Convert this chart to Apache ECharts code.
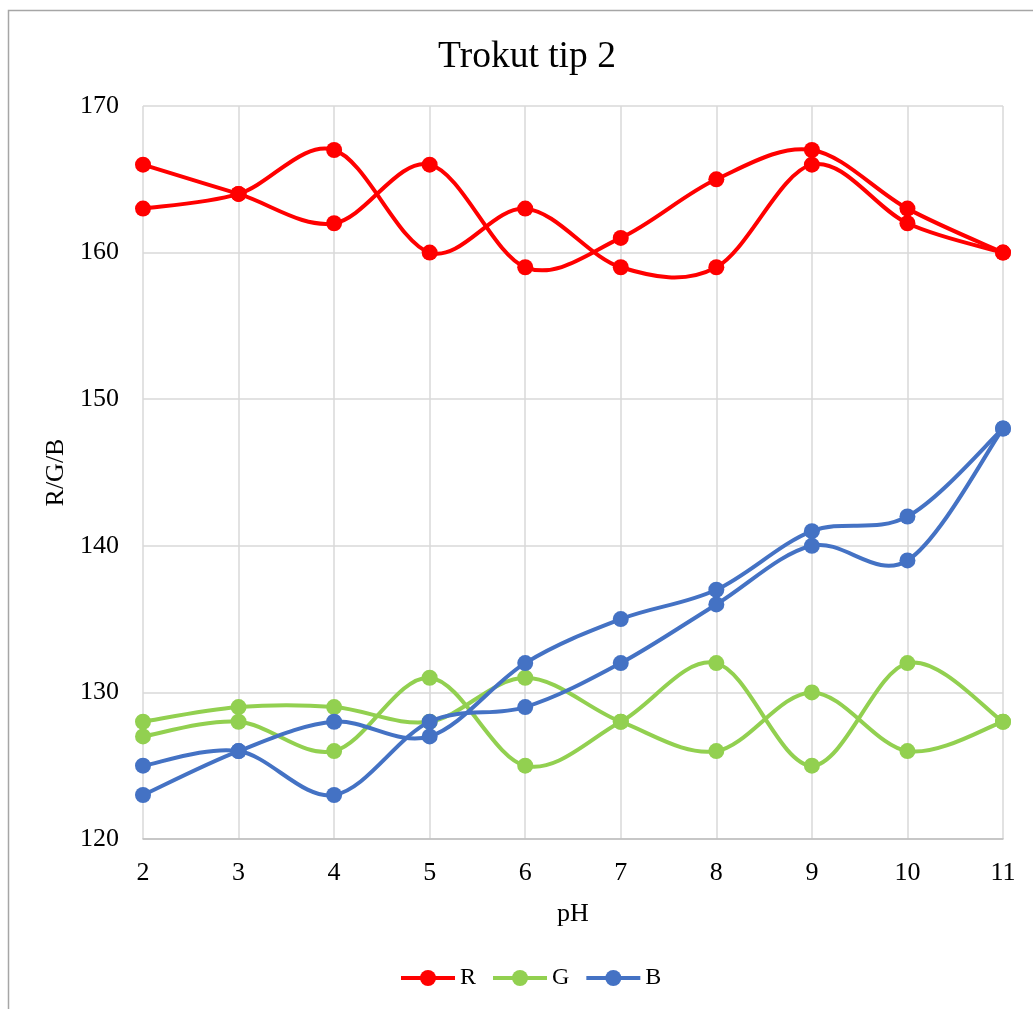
<!DOCTYPE html>
<html>
<head>
<meta charset="utf-8">
<title>Trokut tip 2</title>
<script src="https://cdn.jsdelivr.net/npm/echarts@6/dist/echarts.min.js"></script>
<style>
  html, body { margin: 0; padding: 0; background: #fff; }
  #chart { width: 1033px; height: 1009px; }
</style>
</head>
<body>
<div id="chart"></div>
<script>
// pH values on the horizontal axis
const phValues = [2, 3, 4, 5, 6, 7, 8, 9, 10, 11];

// Two measurement runs per colour channel
const r1 = [166, 164, 162, 166, 159, 161, 165, 167, 163, 160];
const r2 = [163, 164, 167, 160, 163, 159, 159, 166, 162, 160];
const g1 = [128, 129, 129, 128, 131, 128, 126, 130, 126, 128];
const g2 = [127, 128, 126, 131, 125, 128, 132, 125, 132, 128];
const b1 = [125, 126, 123, 128, 129, 132, 136, 140, 139, 148];
const b2 = [123, 126, 128, 127, 132, 135, 137, 141, 142, 148];

const serif = '"Liberation Serif", "Times New Roman", serif';
const RED = '#ff0000', GREEN = '#92d050', BLUE = '#4472c4';
const LINE_W = 4;
const DOT_R = 8;

function pairs(ys) {
  return phValues.map((x, i) => [x, ys[i]]);
}

// Empty line series: they only supply the legend entries (line + dot icon)
function legendSeries(name, color) {
  return {
    name: name,
    type: 'line',
    data: [],
    symbol: 'circle',
    lineStyle: { color: color, width: LINE_W },
    itemStyle: { color: color }
  };
}

// Smoothed run: each item draws the Catmull-Rom style cubic segment to
// the next point (control points at 1/6 of the neighbour chord) and its dot.
function curveSeries(name, ys, color) {
  const data = pairs(ys);
  return {
    name: name,
    type: 'custom',
    data: data,
    encode: { x: 0, y: 1 },
    silent: true,
    renderItem: function (params, api) {
      const i = params.dataIndex;
      const n = data.length;
      const pt = k => api.coord(data[Math.max(0, Math.min(n - 1, k))]);
      const children = [];
      if (i < n - 1) {
        const p0 = pt(i - 1), p1 = pt(i), p2 = pt(i + 1), p3 = pt(i + 2);
        children.push({
          type: 'bezierCurve',
          shape: {
            x1: p1[0], y1: p1[1],
            cpx1: p1[0] + (p2[0] - p0[0]) / 6, cpy1: p1[1] + (p2[1] - p0[1]) / 6,
            cpx2: p2[0] - (p3[0] - p1[0]) / 6, cpy2: p2[1] - (p3[1] - p1[1]) / 6,
            x2: p2[0], y2: p2[1]
          },
          style: { stroke: color, lineWidth: LINE_W, fill: null, lineCap: 'round' }
        });
      }
      const c = pt(i);
      children.push({
        type: 'circle',
        shape: { cx: c[0], cy: c[1], r: DOT_R },
        style: { fill: color }
      });
      return { type: 'group', children: children };
    }
  };
}

const chart = echarts.init(document.getElementById('chart'), null, { renderer: 'canvas' });
chart.setOption({
  animation: false,
  backgroundColor: '#ffffff',
  graphic: [{
    type: 'rect',
    shape: { x: 8.5, y: 10.5, width: 1200, height: 1200 },
    style: { fill: 'none', stroke: '#a6a6a6', lineWidth: 1.5 },
    silent: true,
    z: -1
  }],
  title: {
    text: 'Trokut tip 2',
    left: 522,
    textAlign: 'center',
    top: 33,
    textStyle: { fontFamily: serif, fontSize: 37.5, fontWeight: 'normal', color: '#000' }
  },
  legend: {
    data: ['R', 'G', 'B'],
    left: 394,
    top: 961,
    itemWidth: 54,
    itemHeight: 20,
    itemGap: 15,
    lineStyle: { width: LINE_W, opacity: 1 },
    textStyle: { fontFamily: serif, fontSize: 24, color: '#000' }
  },
  grid: { left: 143, right: 30, top: 106, bottom: 170, containLabel: false },
  xAxis: {
    type: 'value',
    min: 2, max: 11, interval: 1,
    name: 'pH',
    nameLocation: 'middle',
    nameGap: 62,
    nameTextStyle: { fontFamily: serif, fontSize: 26, color: '#000' },
    axisLine: { show: true, lineStyle: { color: '#bfbfbf', width: 1.5 } },
    axisTick: { show: false },
    axisLabel: { fontFamily: serif, fontSize: 26, color: '#000', margin: 21 },
    splitLine: { show: true, lineStyle: { color: '#d9d9d9', width: 1.5 } }
  },
  yAxis: {
    type: 'value',
    min: 120, max: 170, interval: 10,
    name: 'R/G/B',
    nameLocation: 'middle',
    nameGap: 72,
    nameTextStyle: { fontFamily: serif, fontSize: 26, color: '#000' },
    axisLine: { show: false },
    axisTick: { show: false },
    axisLabel: { fontFamily: serif, fontSize: 26, color: '#000', margin: 24 },
    splitLine: { show: true, lineStyle: { color: '#d9d9d9', width: 1.5 } }
  },
  series: [
    legendSeries('R', RED),
    legendSeries('G', GREEN),
    legendSeries('B', BLUE),
    curveSeries('R', r1, RED),
    curveSeries('R', r2, RED),
    curveSeries('G', g1, GREEN),
    curveSeries('G', g2, GREEN),
    curveSeries('B', b1, BLUE),
    curveSeries('B', b2, BLUE)
  ]
});
</script>
</body>
</html>
